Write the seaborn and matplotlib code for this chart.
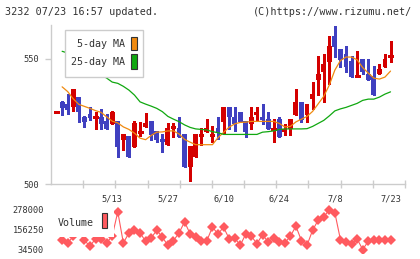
import matplotlib
matplotlib.use("Agg")
import matplotlib.pyplot as plt
import numpy as np
import pandas as pd
import seaborn as sns
from matplotlib.patches import Rectangle

sns.set_theme(style="white")
plt.rcParams["font.family"] = ["DejaVu Sans Mono", "DejaVu Sans"]

# daily OHLC, 61 sessions from late April to 7/23
opens = [528.9, 532.9, 532.0, 530.6, 534.8, 526.9, 528.0, 526.8, 526.6, 525.0,
         524.0, 525.0, 517.4, 519.0, 514.8, 520.8, 522.7, 525.0, 521.0, 517.8,
         515.6, 521.8, 522.2, 519.8, 506.8, 510.8, 518.7, 520.8, 518.7, 522.2,
         524.7, 530.9, 526.9, 528.9, 525.0, 524.0, 527.7, 526.9, 526.0, 522.0,
         526.0, 520.8, 521.9, 527.7, 532.9, 527.7, 533.8, 541.7, 544.7, 548.8,
         559.0, 553.8, 551.9, 549.0, 543.0, 549.9, 543.8, 543.0, 543.8, 546.8,
         551.0]
highs = [528.9, 533.0, 535.9, 538.0, 534.8, 527.0, 530.8, 528.7, 530.0, 528.0,
         529.0, 525.0, 520.0, 519.0, 525.0, 524.7, 528.2, 525.0, 521.0, 519.8,
         524.3, 524.3, 526.9, 519.8, 515.0, 519.8, 522.2, 526.1, 523.0, 526.9,
         530.9, 530.9, 530.9, 528.9, 525.0, 530.9, 530.9, 532.0, 528.9, 526.0,
         526.9, 524.0, 526.0, 537.9, 532.9, 532.0, 540.8, 551.0, 552.0, 559.0,
         563.0, 553.8, 555.0, 551.0, 553.0, 549.9, 549.9, 547.1, 548.0, 551.9,
         557.0]
lows = [528.9, 527.7, 528.0, 529.0, 524.7, 522.7, 525.5, 522.0, 522.0, 522.0,
        524.0, 510.8, 513.5, 510.8, 514.8, 519.0, 522.7, 517.4, 516.7, 512.8,
        515.6, 518.7, 518.7, 506.8, 501.0, 510.8, 515.6, 520.8, 516.7, 518.0,
        520.5, 522.0, 521.0, 524.7, 518.7, 522.0, 525.7, 524.0, 521.9, 516.7,
        518.7, 519.4, 519.4, 527.7, 524.7, 524.7, 530.0, 535.6, 532.6, 539.9,
        550.9, 546.8, 544.9, 542.9, 543.0, 543.8, 541.7, 535.7, 543.8, 546.8,
        548.8]
closes = [528.9, 530.5, 529.7, 537.9, 528.6, 524.7, 526.5, 526.8, 523.9, 522.0,
          528.9, 514.8, 519.8, 510.8, 524.3, 520.8, 524.3, 519.4, 517.5, 516.6,
          522.2, 523.0, 518.7, 506.8, 515.0, 519.8, 519.8, 522.2, 519.8, 520.4,
          530.9, 526.6, 523.8, 524.7, 520.7, 526.9, 528.9, 525.7, 521.9, 522.0,
          518.7, 522.0, 526.0, 532.9, 525.7, 532.0, 536.1, 544.1, 548.0, 555.0,
          554.9, 549.7, 546.8, 542.9, 543.0, 544.9, 541.7, 535.7, 545.8, 549.9,
          551.0]

ma5 = [np.nan, 538.8, 536.9, 534.0, 531.8, 531.0, 530.2, 529.3, 528.6, 526.8,
       525.1, 524.4, 522.8, 521.8, 520.3, 518.3, 517.7, 519.4, 520.7, 520.8,
       521.2, 521.2, 520.0, 517.8, 516.7, 515.7, 515.7, 515.7, 515.7, 518.5,
       520.6, 522.7, 524.0, 524.6, 524.7, 525.0, 525.0, 525.0, 525.0, 525.0,
       524.2, 522.8, 523.0, 524.8, 525.9, 527.0, 529.0, 532.0, 535.0, 539.5,
       545.5, 549.3, 550.7, 550.7, 549.6, 546.5, 544.3, 542.3, 541.9, 542.7,
       545.1]
ma25 = [np.nan, 553.0, 552.3, 551.0, 549.5, 548.0, 546.5, 545.0, 543.5, 542.3,
        540.7, 540.2, 539.0, 537.5, 535.5, 532.8, 531.9, 531.1, 530.2, 528.9,
        527.0, 525.9, 524.9, 523.6, 522.6, 522.0, 521.8, 521.6, 520.9, 520.5,
        519.8, 519.8, 519.8, 519.8, 519.8, 519.8, 519.8, 520.7, 520.9, 521.2,
        521.8, 522.0, 522.0, 522.0, 522.0, 522.1, 523.0, 524.2, 525.4, 527.2,
        529.2, 530.0, 530.6, 531.4, 532.2, 533.4, 533.9, 533.9, 534.7, 535.9,
        536.8]

volume = [np.nan, 90800, 74300, 114000, 140000, 90800, 54100, 100600, 100600, 74300,
          117000, 264000, 74300, 135400, 152000, 135400, 84700, 104900, 152000, 109100,
          60200, 88300, 135400, 202700, 129300, 109100, 84700, 88300, 170300, 129300,
          170300, 100600, 104900, 60200, 129300, 115300, 70000, 125000, 80400, 104900,
          80400, 74300, 115300, 176400, 88300, 60200, 152000, 213100, 231500, 278000,
          257800, 94500, 80400, 68100, 98700, 34500, 84700, 90800, 90800, 90800,
          90800]

tick_idx = [10, 20, 30, 40, 50, 60]
tick_labels = ["5/13", "5/27", "6/10", "6/24", "7/8", "7/23"]
price_ticks = [500, 550]
vol_ticks = [34500, 156250, 278000]

RED = "#d40000"
BLUE = "#4040c0"
ORANGE = "#f08a10"
GREEN = "#10a810"
VOLC = "#ff5a5f"
GRID = "#cccccc"
TXT = "#333333"

df = pd.DataFrame({"i": np.arange(len(closes)), "o": opens, "h": highs, "l": lows,
                   "c": closes, "ma5": ma5, "ma25": ma25, "vol": volume})

W, H = 420, 259
fig = plt.figure(figsize=(W / 100, H / 100), dpi=100)
ax = fig.add_axes([51 / W, 1 - 184 / H, 354 / W, 159 / H])
axv = fig.add_axes([51 / W, 1 - 253 / H, 354 / W, 48 / H])

xlim = (-1.0, 62.6)

# candles
up = df["c"] >= df["o"]
cols = np.where(up, RED, BLUE)
ax.vlines(df["i"], df["l"], df["h"], colors=cols, lw=0.8, zorder=3, antialiased=False)
body = (df["c"] - df["o"]).abs()
real = body > 0.05
ax.bar(df["i"][real], body[real], bottom=np.minimum(df["o"], df["c"])[real],
       width=0.88, color=cols[real.values], linewidth=0, zorder=4, antialiased=False)
doji = ~real
ax.hlines(df["c"][doji], df["i"][doji] - 0.44, df["i"][doji] + 0.44,
          colors=cols[doji.values], lw=0.9, zorder=4, antialiased=False)

sns.lineplot(data=df, x="i", y="ma5", color=ORANGE, lw=0.9, ax=ax, zorder=5)
sns.lineplot(data=df, x="i", y="ma25", color=GREEN, lw=0.9, ax=ax, zorder=5)

ax.set_xlim(*xlim)
ax.set_ylim(500, 563.5)
ax.set_xlabel("")
ax.set_ylabel("")
for s in ["top", "right"]:
    ax.spines[s].set_visible(False)
for s in ["left", "bottom"]:
    ax.spines[s].set_color(GRID)
    ax.spines[s].set_linewidth(1)
ax.set_yticks(price_ticks)
ax.set_yticklabels([str(t) for t in price_ticks])
ax.tick_params(axis="y", direction="out", length=4.5, width=1, color=GRID,
               labelsize=6.2, labelcolor=TXT, pad=4, left=True)
ax.set_xticks(tick_idx)
ax.set_xticklabels(tick_labels)
ax.set_xticks(np.linspace(xlim[0], xlim[1], 12)[1:], minor=True)
ax.tick_params(axis="x", which="major", length=0, labelsize=6.2, labelcolor=TXT, pad=7.5)
ax.tick_params(axis="x", which="minor", direction="inout", length=5.8, width=1,
               color=GRID, bottom=True)

# volume
sns.lineplot(data=df, x="i", y="vol", color=VOLC, lw=0.8, marker="D", markersize=4.8,
             markeredgewidth=0, ax=axv)
axv.set_xlim(*xlim)
axv.set_ylim(13194, 305394)
axv.set_xlabel("")
axv.set_ylabel("")
axv.set_xticks([])
axv.set_yticks(vol_ticks)
axv.set_yticklabels([str(t) for t in vol_ticks])
axv.tick_params(axis="y", length=0, labelsize=6.2, labelcolor=TXT, pad=5)
for s in axv.spines.values():
    s.set_visible(False)
axv.patch.set_alpha(0)

# overlay: header and legends in pixel coordinates
ov = fig.add_axes([0, 0, 1, 1], zorder=10)
ov.set_xlim(0, W)
ov.set_ylim(H, 0)
ov.axis("off")
ov.patch.set_alpha(0)

ov.text(5, 12, "3232 07/23 16:57 updated.", ha="left", va="center", fontsize=7.3, color=TXT)
ov.text(412, 12, "(C)https://www.rizumu.net/", ha="right", va="center", fontsize=7.3, color=TXT)

ov.add_patch(Rectangle((65, 30), 78.3, 47.3, fc="white", ec=GRID, lw=1))
ov.text(125, 44, "5-day MA", ha="right", va="center", fontsize=7.2, color=TXT)
ov.text(125, 62, "25-day MA", ha="right", va="center", fontsize=7.2, color=TXT)
ov.add_patch(Rectangle((131, 36.7), 5.7, 13.3, fc=ORANGE, ec="#333333", lw=0.8))
ov.add_patch(Rectangle((131, 54), 5.7, 15, fc=GREEN, ec="#333333", lw=0.8))

ov.add_patch(Rectangle((55, 207), 59, 29.5, fc="white", ec="none"))
ov.text(58, 222.5, "Volume", ha="left", va="center", fontsize=7.2, color=TXT)
ov.add_patch(Rectangle((101.7, 212.7), 5.6, 15.6, fc=VOLC, ec="#333333", lw=0.8))

fig.savefig("out.png", dpi=100)
